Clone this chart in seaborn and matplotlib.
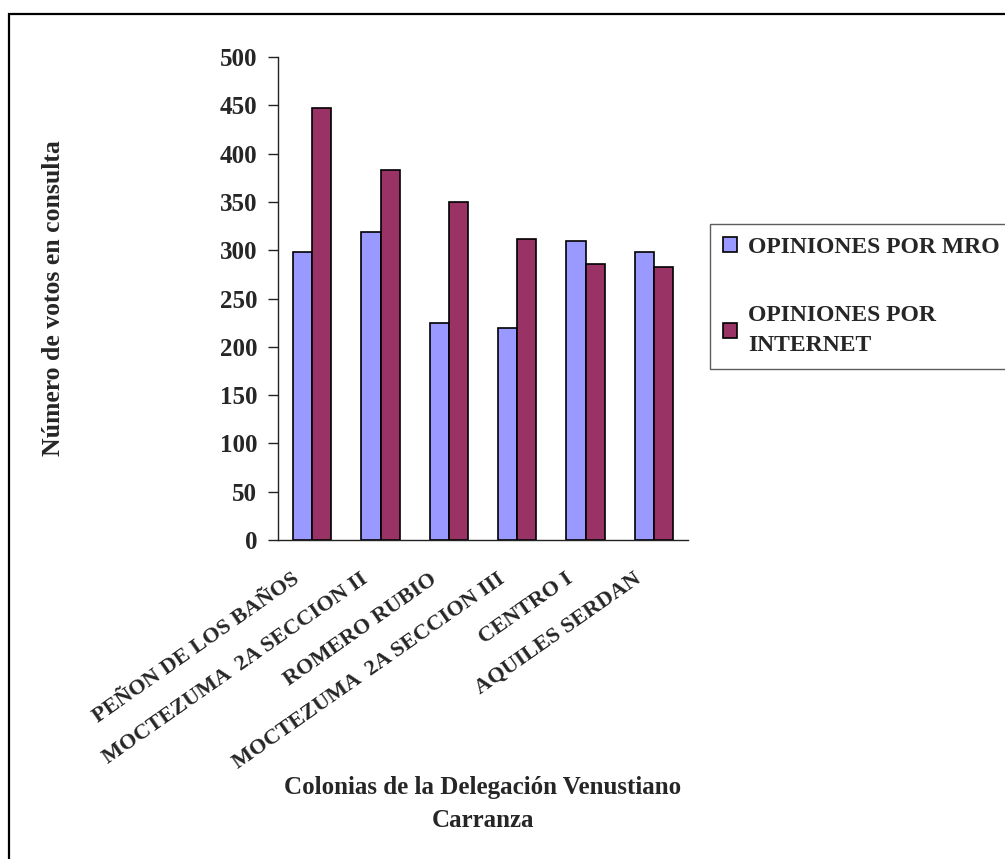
import numpy as np
import pandas as pd
import matplotlib
matplotlib.use("Agg")
import matplotlib.pyplot as plt
import seaborn as sns
from matplotlib.patches import Rectangle
from matplotlib.transforms import ScaledTranslation

colonias = ["PEÑON DE LOS BAÑOS", "MOCTEZUMA  2A SECCION II", "ROMERO RUBIO",
            "MOCTEZUMA  2A SECCION III", "CENTRO I", "AQUILES SERDAN"]
series = ["OPINIONES POR MRO", "OPINIONES POR\nINTERNET"]
mro = [298, 319, 225, 219, 310, 298]
internet = [447, 383, 350, 312, 286, 283]
colores = ["#9999FF", "#993366"]
yticks = [0, 50, 100, 150, 200, 250, 300, 350, 400, 450, 500]

df = pd.DataFrame({
    "colonia": colonias * 2,
    "serie": [series[0]] * 6 + [series[1]] * 6,
    "votos": mro + internet,
})

sns.set_style("white")
plt.rcParams["font.family"] = ["Liberation Serif", "DejaVu Serif"]
plt.rcParams["font.weight"] = "bold"

fig = plt.figure(figsize=(10.05, 8.59), dpi=100)
ax = fig.add_axes([278 / 1005, 1 - 540 / 859, 410 / 1005, 483 / 859])

sns.barplot(data=df, x="colonia", y="votos", hue="serie", palette=colores,
            width=0.565, gap=0, edgecolor="black", linewidth=1.2,
            saturation=1, ax=ax)

ax.set_xlim(-0.5, 5.5)
ax.set_ylim(0, 500)
ax.set_yticks(yticks)
ax.set_yticklabels([str(v) for v in yticks], fontsize=18, fontweight="bold")
ax.set_xlabel("")
ax.set_ylabel("")
sns.despine(ax=ax)
for s in ["left", "bottom"]:
    ax.spines[s].set_linewidth(1.0)
    ax.spines[s].set_color("#222222")

ax.set_xticks(np.arange(-0.5, 6.0, 1.0), minor=True)
ax.tick_params(axis="x", which="minor", length=7, width=1, color="#222222", direction="out")
ax.tick_params(axis="x", which="major", length=0, pad=21)
ax.tick_params(axis="y", length=7, width=1, color="#222222", direction="out", left=True, pad=8)
ax.set_xticks(range(len(colonias)))
ax.set_xticklabels(colonias, fontsize=16, fontweight="bold", rotation=35,
                   ha="right", va="top", rotation_mode="anchor")
off = ScaledTranslation(-20 / 100, 0, fig.dpi_scale_trans)
for lbl in ax.get_xticklabels():
    lbl.set_transform(lbl.get_transform() + off)

# legend
h, l = ax.get_legend_handles_labels()
ax.get_legend().remove()
leg = fig.legend(h, l, loc="upper left", bbox_to_anchor=(710 / 1005, 1 - 224 / 859),
                 frameon=True, fancybox=False, prop={"size": 17, "weight": "bold"},
                 handlelength=0.6, handleheight=0.6, handletextpad=0.45,
                 labelspacing=2.0, borderpad=0.55, borderaxespad=0)
for t in leg.get_texts():
    t.set_linespacing(1.55)
leg.get_frame().set_edgecolor("#333333")
leg.get_frame().set_linewidth(1.0)

# axis titles
fig.text(483 / 1005, 1 - 776 / 859, "Colonias de la Delegación Venustiano\nCarranza",
         ha="center", va="top", fontsize=18, fontweight="bold", linespacing=1.55)
fig.text(53 / 1005, 1 - 456 / 859, "Número de votos en consulta", rotation=90,
         ha="center", va="bottom", fontsize=18.5, fontweight="bold")

# outer chart border (cut off at right and bottom)
fig.patches.append(Rectangle((9 / 1005, -0.1), 1.2, 1.1 - 14 / 859, transform=fig.transFigure,
                             fill=False, edgecolor="black", linewidth=1.6))

fig.savefig("out.png", dpi=100)
